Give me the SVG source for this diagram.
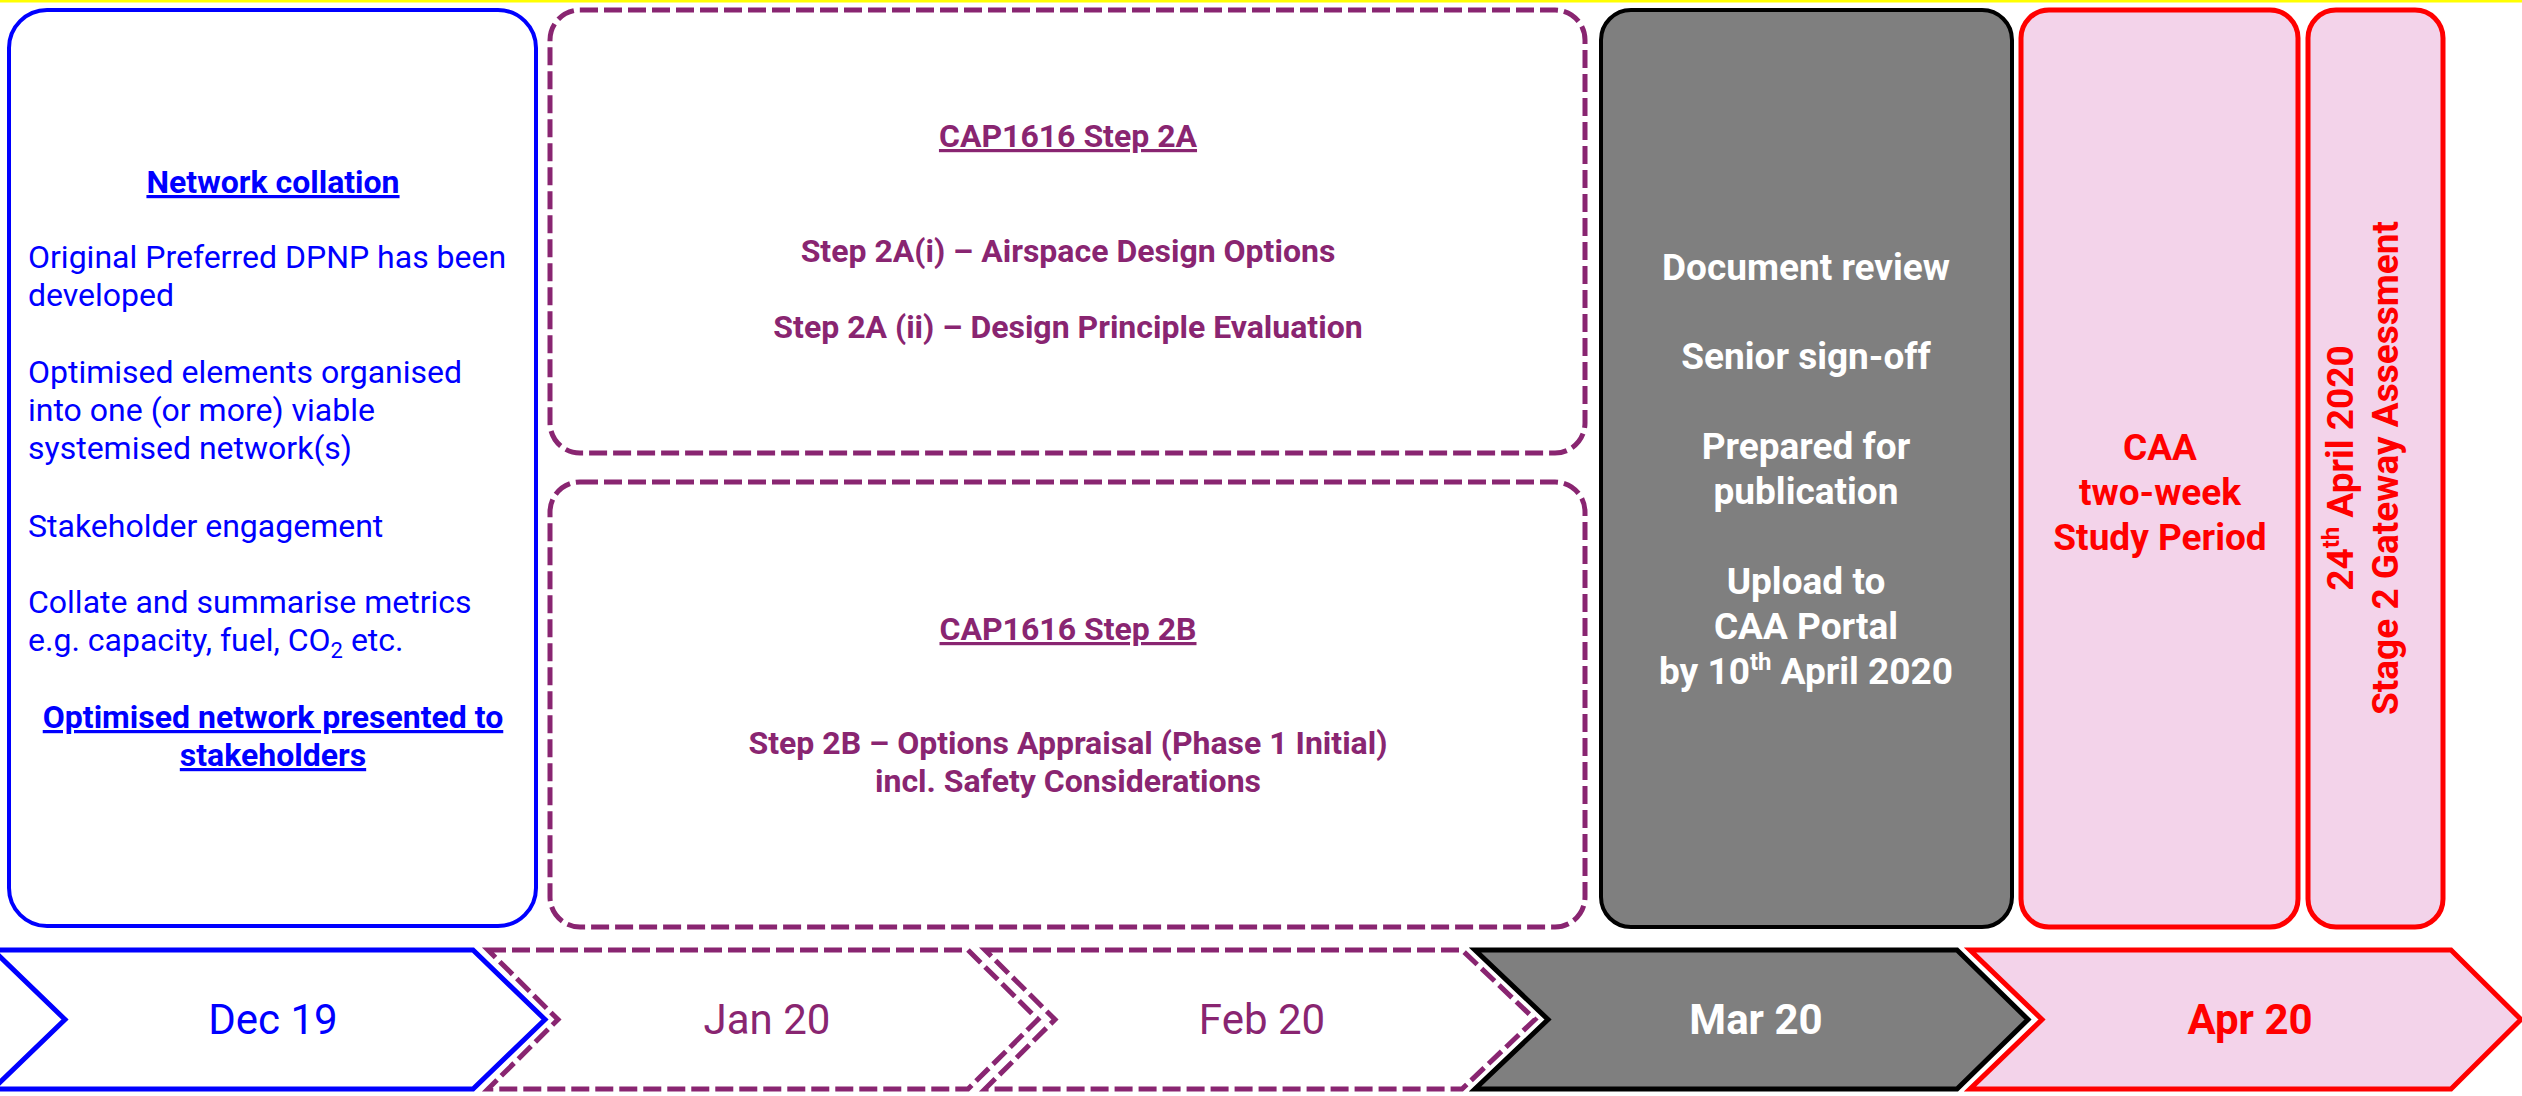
<svg xmlns="http://www.w3.org/2000/svg" width="2522" height="1096" viewBox="0 0 2522 1096">
<style>
text{font-family:Roboto,"Liberation Sans",sans-serif}
.blue{fill:#0000FF;font-size:32px}
.pur{fill:#892571;font-size:32px;font-weight:bold}
.wh{fill:#FFFFFF;font-size:37px;font-weight:bold}
.red{fill:#FF0000;font-size:37px;font-weight:bold}
.ul{text-decoration:underline}
.b{font-weight:bold}
.mid{text-anchor:middle}
.mon{font-size:42px;text-anchor:middle}
.dash{fill:#FFFFFF;stroke:#892571;stroke-width:5;stroke-dasharray:18 6}
</style>
<rect x="0" y="0" width="2522" height="2.5" fill="#FFFF00"/>
<g id="network-collation">
<rect x="9" y="10" width="527" height="916" rx="38" fill="#FFFFFF" stroke="#0000FF" stroke-width="4"/>
<text class="blue b ul mid" x="273" y="193">Network collation</text>
<text class="blue" x="28" y="268">Original Preferred DPNP has been</text>
<text class="blue" x="28" y="306">developed</text>
<text class="blue" x="28" y="383">Optimised elements organised</text>
<text class="blue" x="28" y="421">into one (or more) viable</text>
<text class="blue" x="28" y="459">systemised network(s)</text>
<text class="blue" x="28" y="537">Stakeholder engagement</text>
<text class="blue" x="28" y="613">Collate and summarise metrics</text>
<text class="blue" x="28" y="651">e.g. capacity, fuel, CO<tspan font-size="22" dy="7">2</tspan><tspan dy="-7"> etc.</tspan></text>
<text class="blue b ul mid" x="273" y="728">Optimised network presented to</text>
<text class="blue b ul mid" x="273" y="766">stakeholders</text>
</g>
<g id="step-2a">
<rect x="550" y="10" width="1035" height="443" rx="30" class="dash"/>
<text class="pur ul mid" x="1068" y="147">CAP1616 Step 2A</text>
<text class="pur mid" x="1068" y="262">Step 2A(i) – Airspace Design Options</text>
<text class="pur mid" x="1068" y="338">Step 2A (ii) – Design Principle Evaluation</text>
</g>
<g id="step-2b">
<rect x="550" y="482" width="1035" height="445" rx="30" class="dash"/>
<text class="pur ul mid" x="1068" y="640">CAP1616 Step 2B</text>
<text class="pur mid" x="1068" y="754">Step 2B – Options Appraisal (Phase 1 Initial)</text>
<text class="pur mid" x="1068" y="792">incl. Safety Considerations</text>
</g>
<g id="document-review">
<rect x="1601" y="10" width="411" height="917" rx="30" fill="#7F7F7F" stroke="#000000" stroke-width="4"/>
<text class="wh mid" x="1806" y="280">Document review</text>
<text class="wh mid" x="1806" y="369">Senior sign-off</text>
<text class="wh mid" x="1806" y="459">Prepared for</text>
<text class="wh mid" x="1806" y="504">publication</text>
<text class="wh mid" x="1806" y="594">Upload to</text>
<text class="wh mid" x="1806" y="639">CAA Portal</text>
<text class="wh mid" x="1806" y="684">by 10<tspan font-size="24" dy="-14">th</tspan><tspan dy="14"> April 2020</tspan></text>
</g>
<g id="caa-study-period">
<rect x="2021" y="10" width="277" height="917" rx="28" fill="#F3D3EA" stroke="#FF0000" stroke-width="5"/>
<text class="red mid" x="2160" y="460">CAA</text>
<text class="red mid" x="2160" y="505">two-week</text>
<text class="red mid" x="2160" y="550">Study Period</text>
</g>
<g id="gateway-assessment">
<rect x="2308" y="10" width="135" height="917" rx="28" fill="#F3D3EA" stroke="#FF0000" stroke-width="5"/>
<g transform="translate(2375,468) rotate(-90)">
<text class="red mid" x="0" y="-22">24<tspan font-size="24" dy="-14">th</tspan><tspan dy="14"> April 2020</tspan></text>
<text class="red mid" x="0" y="23">Stage 2 Gateway Assessment</text>
</g>
</g>
<g id="month-dec">
<polygon points="-7,950 473,950 545,1019.5 473,1089 -7,1089 65,1019.5" fill="#FFFFFF" stroke="#0000FF" stroke-width="5"/>
<text class="mon" x="273" y="1034" fill="#0000FF">Dec 19</text>
</g>
<g id="month-jan">
<polygon points="488,950 968,950 1038,1019.5 968,1089 488,1089 558,1019.5" class="dash"/>
<text class="mon" x="767" y="1034" fill="#892571">Jan 20</text>
</g>
<g id="month-feb">
<polygon points="985,950 1462,950 1535,1019.5 1462,1089 985,1089 1055,1019.5" class="dash"/>
<text class="mon" x="1262" y="1034" fill="#892571">Feb 20</text>
</g>
<g id="month-mar">
<polygon points="1475,950 1957,950 2028,1019.5 1957,1089 1475,1089 1548,1019.5" fill="#7F7F7F" stroke="#000000" stroke-width="5"/>
<text class="mon b" x="1756" y="1034" fill="#FFFFFF">Mar 20</text>
</g>
<g id="month-apr">
<polygon points="1970,950 2451,950 2521,1019.5 2451,1089 1970,1089 2042,1019.5" fill="#F3D3EA" stroke="#FF0000" stroke-width="5"/>
<text class="mon b" x="2250" y="1034" fill="#FF0000">Apr 20</text>
</g>
<g id="connectors"/>
</svg>
